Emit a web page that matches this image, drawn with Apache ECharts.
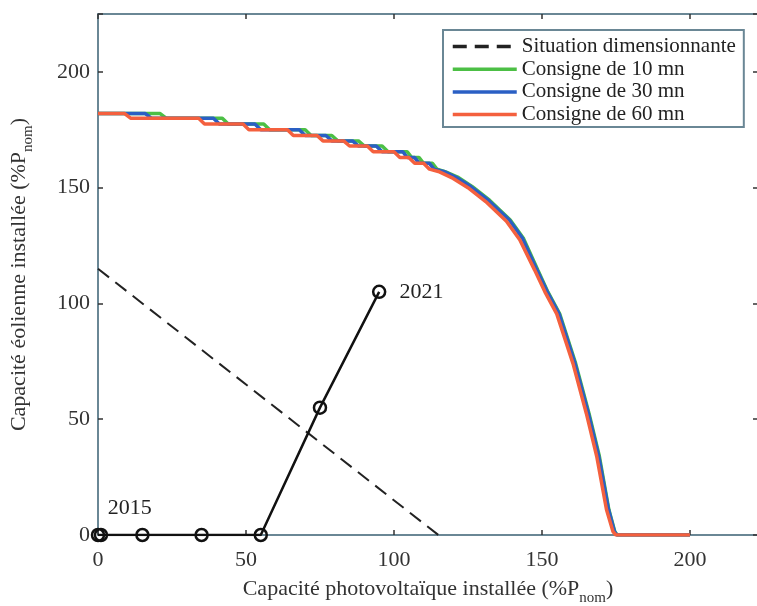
<!DOCTYPE html>
<html><head><meta charset="utf-8">
<script src="https://cdn.jsdelivr.net/npm/echarts@6/dist/echarts.min.js"></script>
<style>html,body{margin:0;padding:0;background:#fff}#c{width:757px;height:606px}</style>
</head><body><div id="c"></div>
<script>
var xTicks = [0, 50, 100, 150, 200];
var yTicks = [0, 50, 100, 150, 200];
var seriesNames = ['Situation dimensionnante', 'Consigne de 10 mn', 'Consigne de 30 mn', 'Consigne de 60 mn'];
var dimensioning = [[0, 115], [115, 0]];
var trajectory = [[0, 0], [1, 0], [15, 0], [35, 0], [55, 0], [75, 55], [95, 105]];
var trajectoryLabels = ['2015', '', '', '', '', '', '2021'];
var cons10 = [[0,182],[21,182],[23,180],[42,180],[44,177.5],[56,177.5],[58,175],[70,175],[72,172.5],[79,172.5],[81,170.2],[88,170.2],[90,168],[96,168],[98,165.5],[104.5,165.5],[106,163],[108.5,163],[110,160.5],[113,160.5],[114.5,158],[117.5,156.8],[121.5,154.6],[126.5,150.4],[132.3,144.6],[139.3,136],[143.8,128],[148.6,114.5],[152,105],[156,95.5],[161.4,74],[165.9,52.5],[169.4,34],[172.6,11],[174.6,1.5],[175.4,0],[200,0]];
var cons30 = [[0,182],[16,182],[18,180],[39,180],[41,177.5],[53,177.5],[55,175],[68,175],[70,172.5],[77,172.5],[79,170.2],[86,170.2],[88,168],[94,168],[96,165.5],[103,165.5],[104.5,163],[107,163],[108.5,160.5],[112,160.5],[113.5,158],[116.8,157],[121,154.5],[126,150.5],[132,144.5],[139,136],[143.5,128],[148.3,114.5],[151.8,105],[155.8,95.5],[161.2,74],[165.7,52.5],[169.2,34],[172.5,11],[174.5,1.5],[175.3,0],[200,0]];
var cons60 = [[0,182],[9,182],[11,180],[34,180],[36,177.5],[49,177.5],[51,175],[64,175],[66,172.5],[74,172.5],[76,170.2],[83,170.2],[85,168],[91,168],[93,165.5],[100,165.5],[102,163],[105,163],[107,160.5],[110,160.5],[112,158],[115,157],[120,154],[125,150],[131,144],[138,135.5],[142.5,127.5],[147.5,114.5],[151,105],[155,95.5],[160.5,74],[165,52.5],[168.5,34],[171.8,11],[174,1.5],[175,0],[200,0]];

var axisCol = '#6a8795';
var font = '"Liberation Serif", "DejaVu Serif", serif';
var chart = echarts.init(document.getElementById('c'), null, {renderer: 'canvas'});

function baseAxis(extra) {
  var a = {
    type: 'value', min: 0, interval: 50,
    splitLine: {show: false},
    axisLine: {show: true, onZero: false, lineStyle: {color: axisCol, width: 2}},
    axisTick: {show: true, inside: true, length: 5, lineStyle: {color: '#333', width: 1.5}},
    axisLabel: {fontFamily: font, fontSize: 22, color: '#333'}
  };
  for (var k in extra) a[k] = extra[k];
  return a;
}

var trajData = trajectory.map(function (p, i) {
  var d = {value: p};
  if (trajectoryLabels[i]) {
    d.label = {show: true, formatter: trajectoryLabels[i], fontFamily: font, fontSize: 22, color: '#222',
      position: i === 0 ? [17, -31] : 'right', distance: 13};
  }
  return d;
});

chart.setOption({
  animation: false,
  backgroundColor: '#fff',
  grid: {left: 98, right: -1, top: 14, bottom: 71, containLabel: false, outerBoundsMode: 'none'},
  legend: {
    orient: 'vertical', left: 443, top: 30,
    data: seriesNames,
    itemWidth: 64, itemHeight: 18, itemGap: 1.7,
    padding: [6, 8, 2, 8],
    borderColor: axisCol, borderWidth: 2, backgroundColor: '#fff',
    itemStyle: {opacity: 0},
    lineStyle: {width: 3.5},
    textStyle: {fontFamily: font, fontSize: 21, color: '#222', padding: [0, 0, 0, 0]}
  },
  xAxis: [
    baseAxis({max: 223, position: 'bottom',
      axisLabel: {fontFamily: font, fontSize: 22, color: '#333', margin: 14, customValues: xTicks},
      name: '{a|Capacité photovoltaïque installée (%P}{s|nom}{a|)}',
      nameLocation: 'middle', nameGap: 38,
      nameTextStyle: {rich: {
        a: {fontFamily: font, fontSize: 22, color: '#333'},
        s: {fontFamily: font, fontSize: 15, color: '#333', padding: [18, 0, 0, 0]}
      }}}),
    baseAxis({max: 223, position: 'top', axisLabel: {show: false}})
  ],
  yAxis: [
    baseAxis({max: 225, position: 'left',
      axisLabel: {fontFamily: font, fontSize: 22, color: '#333', margin: 8, customValues: yTicks},
      name: '{a|Capacité éolienne installée (%P}{s|nom}{a|)}',
      nameLocation: 'middle', nameGap: 62,
      nameTextStyle: {rich: {
        a: {fontFamily: font, fontSize: 22, color: '#333'},
        s: {fontFamily: font, fontSize: 15, color: '#333', padding: [18, 0, 0, 0]}
      }}}),
    baseAxis({max: 225, position: 'right', axisLabel: {show: false}})
  ],
  series: [
    {name: seriesNames[0], type: 'line', data: dimensioning, symbol: 'none',
      lineStyle: {color: '#222', width: 2, type: [14, 8]}, itemStyle: {color: '#222'}, z: 3},
    {name: 'trajectoire', type: 'line', data: trajData, symbol: 'circle', symbolSize: 12,
      itemStyle: {color: 'rgba(0,0,0,0)', borderColor: '#111', borderWidth: 2.5},
      lineStyle: {color: '#111', width: 2.5}, z: 4},
    {name: seriesNames[1], type: 'line', data: cons10, symbol: 'none',
      lineStyle: {color: '#4cbf45', width: 3.5}, itemStyle: {color: '#4cbf45'}, z: 5},
    {name: seriesNames[2], type: 'line', data: cons30, symbol: 'none',
      lineStyle: {color: '#2a5fc4', width: 3.5}, itemStyle: {color: '#2a5fc4'}, z: 6},
    {name: seriesNames[3], type: 'line', data: cons60, symbol: 'none',
      lineStyle: {color: '#f4603e', width: 3.5}, itemStyle: {color: '#f4603e'}, z: 7}
  ]
});
</script></body></html>
